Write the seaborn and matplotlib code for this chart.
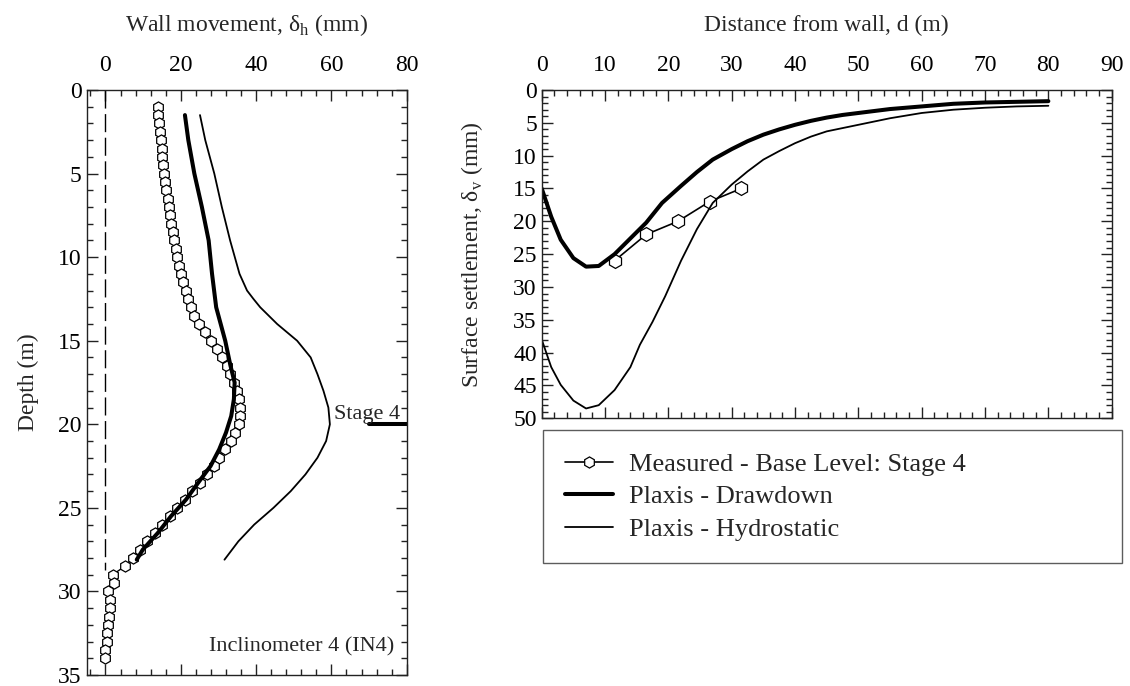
import matplotlib
matplotlib.use("Agg")
import matplotlib.pyplot as plt
from matplotlib.ticker import MultipleLocator
from matplotlib.lines import Line2D
import seaborn as sns

# ---------------- Wall movement profile (inclinometer IN4) ----------------
meas_depth = [1.0, 1.5, 2.0, 2.5, 3.0, 3.5, 4.0, 4.5, 5.0, 5.5, 6.0, 6.5, 7.0, 7.5,
              8.0, 8.5, 9.0, 9.5, 10.0, 10.5, 11.0, 11.5, 12.0, 12.5, 13.0, 13.5,
              14.0, 14.5, 15.0, 15.5, 16.0, 16.5, 17.0, 17.5, 18.0, 18.5, 19.0,
              19.5, 20.0, 20.5, 21.0, 21.5, 22.0, 22.5, 23.0, 23.5, 24.0, 24.5,
              25.0, 25.5, 26.0, 26.5, 27.0, 27.5, 28.0, 28.5, 29.0, 29.5, 30.0,
              30.5, 31.0, 31.5, 32.0, 32.5, 33.0, 33.5, 34.0]
meas_wall = [13.9, 14.0, 14.2, 14.4, 14.7, 14.9, 15.1, 15.3, 15.5, 15.8, 16.2, 16.5,
             16.9, 17.2, 17.5, 17.8, 18.2, 18.6, 19.1, 19.6, 20.1, 20.7, 21.3, 21.9,
             22.7, 23.6, 24.9, 26.4, 28.0, 29.5, 30.9, 32.2, 33.1, 34.2, 34.9, 35.5,
             35.8, 35.8, 35.4, 34.5, 33.3, 31.8, 30.2, 28.7, 26.9, 25.0, 23.1, 21.1,
             19.1, 17.1, 14.9, 13.1, 10.9, 9.1, 7.4, 5.1, 1.9, 2.2, 0.7, 1.1, 1.1,
             1.0, 0.7, 0.4, 0.3, 0.0, -0.2]

dd_depth = [1.5, 3.0, 5.0, 7.0, 9.0, 11.0, 13.0, 15.0, 16.5, 17.5, 18.5, 19.5, 20.5,
            21.5, 22.5, 23.5, 24.5, 25.5, 26.5, 27.5, 28.1]
dd_wall = [21.1, 22.0, 23.6, 25.6, 27.4, 28.3, 29.4, 31.8, 33.2, 34.3, 34.1, 33.4,
           32.0, 30.2, 27.9, 24.6, 21.4, 17.4, 13.9, 9.9, 8.3]

hy_depth = [1.5, 3.0, 5.0, 7.0, 9.0, 11.0, 12.0, 12.5, 13.0, 14.0, 15.0, 16.0, 17.0,
            18.0, 19.0, 20.0, 21.0, 22.0, 23.0, 24.0, 25.0, 26.0, 27.0, 28.1]
hy_wall = [25.1, 26.5, 28.9, 30.9, 33.1, 35.6, 37.6, 39.3, 41.1, 45.6, 50.9, 54.5,
           56.3, 57.9, 59.2, 59.6, 58.6, 56.3, 53.1, 49.2, 44.6, 39.5, 35.3, 31.6]

# initial wall position and stage-4 excavation level
zero_wall = [0, 0]
zero_depth = [0, 28.7]
stage_wall = [70, 80]
stage_depth = [20, 20]

# ---------------- Surface settlement behind the wall ----------------
meas_dist = [11.5, 16.5, 21.5, 26.5, 31.5]
meas_settle = [26.0, 22.0, 20.0, 17.0, 15.0]

dd_dist = [0, 1.5, 3, 5, 7, 9, 11.5, 14, 16.5, 19, 22, 24.5, 27, 30, 32.5, 35,
           37.5, 40, 42.5, 45, 47.5, 50, 55, 60, 65, 70, 75, 80]
dd_settle = [15.0, 19.3, 22.8, 25.6, 26.9, 26.8, 25.0, 22.6, 20.2, 17.2, 14.6, 12.5,
             10.6, 9.0, 7.8, 6.8, 6.0, 5.3, 4.7, 4.2, 3.8, 3.5, 2.9, 2.5, 2.1, 1.9,
             1.8, 1.7]

hy_dist = [0, 1.5, 3, 5, 7, 9, 11.5, 14, 15.5, 17.5, 19.5, 22, 24.5, 27, 30, 32.5,
           35, 37.5, 40, 42.5, 45, 47.5, 50, 55, 60, 65, 70, 75, 80]
hy_settle = [38.0, 42.2, 44.9, 47.3, 48.5, 48.0, 45.7, 42.2, 38.8, 35.3, 31.4, 26.0,
             21.2, 17.2, 14.4, 12.4, 10.6, 9.3, 8.1, 7.1, 6.3, 5.8, 5.3, 4.3, 3.5,
             3.0, 2.7, 2.5, 2.4]

legend_labels = ["Measured - Base Level: Stage 4", "Plaxis - Drawdown",
                 "Plaxis - Hydrostatic"]

sns.set_style("ticks")
plt.rcParams["font.family"] = ["Liberation Serif", "DejaVu Serif"]
plt.rcParams["mathtext.fontset"] = "custom"
plt.rcParams["mathtext.rm"] = "Liberation Serif"
plt.rcParams["axes.edgecolor"] = "#222222"
plt.rcParams["axes.linewidth"] = 1.0

FS = 17

fig = plt.figure(figsize=(11.3, 6.86), dpi=100)
ax1 = fig.add_axes([0.0767, 0.016, 0.2832, 0.8528])
ax2 = fig.add_axes([0.4794, 0.3902, 0.5044, 0.4786])

# ---- left panel ----
sns.lineplot(x=zero_wall, y=zero_depth, ax=ax1, sort=False, estimator=None,
             color="black", lw=1.0, dashes=False, linestyle=(0, (13, 4)))
sns.lineplot(x=meas_wall, y=meas_depth, ax=ax1, sort=False, estimator=None,
             color="black", lw=1.0, marker="h", markersize=8,
             markerfacecolor="white", markeredgecolor="black", markeredgewidth=0.9)
sns.lineplot(x=dd_wall, y=dd_depth, ax=ax1, sort=False, estimator=None,
             color="black", lw=2.9)
sns.lineplot(x=hy_wall, y=hy_depth, ax=ax1, sort=False, estimator=None,
             color="black", lw=1.3)
sns.lineplot(x=stage_wall, y=stage_depth, ax=ax1, sort=False, estimator=None,
             color="black", lw=2.9)
ax1.text(78.3, 19.4, "Stage 4", ha="right", va="center", fontsize=16)
ax1.text(76.6, 33.3, "Inclinometer 4 (IN4)", ha="right", va="center", fontsize=16)

ax1.set_xlim(-5, 80)
ax1.set_ylim(35, 0)
ax1.xaxis.set_major_locator(MultipleLocator(20))
ax1.xaxis.set_minor_locator(MultipleLocator(4))
ax1.yaxis.set_major_locator(MultipleLocator(5))
ax1.yaxis.set_minor_locator(MultipleLocator(1))
ax1.xaxis.set_label_position("top")
ax1.set_xlabel("Wall movement, δ$_\\mathrm{h}$ (mm)", fontsize=FS, labelpad=17)
ax1.set_ylabel("Depth (m)", fontsize=FS, labelpad=14)

# ---- right panel ----
sns.lineplot(x=meas_dist, y=meas_settle, ax=ax2, sort=False, estimator=None,
             color="black", lw=1.2, marker="h", markersize=10,
             markerfacecolor="white", markeredgecolor="black", markeredgewidth=0.9)
sns.lineplot(x=dd_dist, y=dd_settle, ax=ax2, sort=False, estimator=None,
             color="black", lw=2.9)
sns.lineplot(x=hy_dist, y=hy_settle, ax=ax2, sort=False, estimator=None,
             color="black", lw=1.3)

ax2.set_xlim(0, 90)
ax2.set_ylim(50, 0)
ax2.xaxis.set_major_locator(MultipleLocator(10))
ax2.xaxis.set_minor_locator(MultipleLocator(2))
ax2.yaxis.set_major_locator(MultipleLocator(5))
ax2.yaxis.set_minor_locator(MultipleLocator(1))
ax2.xaxis.set_label_position("top")
ax2.set_xlabel("Distance from wall, d (m)", fontsize=FS, labelpad=17)
ax2.set_ylabel("Surface settlement, δ$_\\mathrm{v}$ (mm)", fontsize=FS, labelpad=20)

for ax in (ax1, ax2):
    ax.tick_params(which="both", direction="in", top=True, bottom=True,
                   left=True, right=True, labeltop=True, labelbottom=False,
                   labelsize=FS, colors="#222222", labelcolor="black")
    ax.tick_params(which="major", length=8, width=1.0)
    ax.tick_params(which="minor", length=4, width=1.0)
    ax.tick_params(axis="x", which="major", pad=10)
    ax.tick_params(axis="y", which="major", pad=3.5)
    for s in ax.spines.values():
        s.set_visible(True)

handles = [
    Line2D([], [], color="black", lw=1.2, marker="h", markersize=8,
           markerfacecolor="white", markeredgecolor="black", markeredgewidth=0.9),
    Line2D([], [], color="black", lw=2.9),
    Line2D([], [], color="black", lw=1.3),
]
leg = fig.legend(handles, legend_labels, loc="upper left",
                 bbox_to_anchor=(0.4805, 0.3732, 0.5124, 0.0), mode="expand",
                 fontsize=19, frameon=True, fancybox=False, edgecolor="#333333",
                 borderpad=0.85, labelspacing=0.34, handlelength=1.8,
                 handletextpad=0.6, borderaxespad=0.0)
leg.get_frame().set_linewidth(1.0)

fig.savefig("out.png", dpi=100)
